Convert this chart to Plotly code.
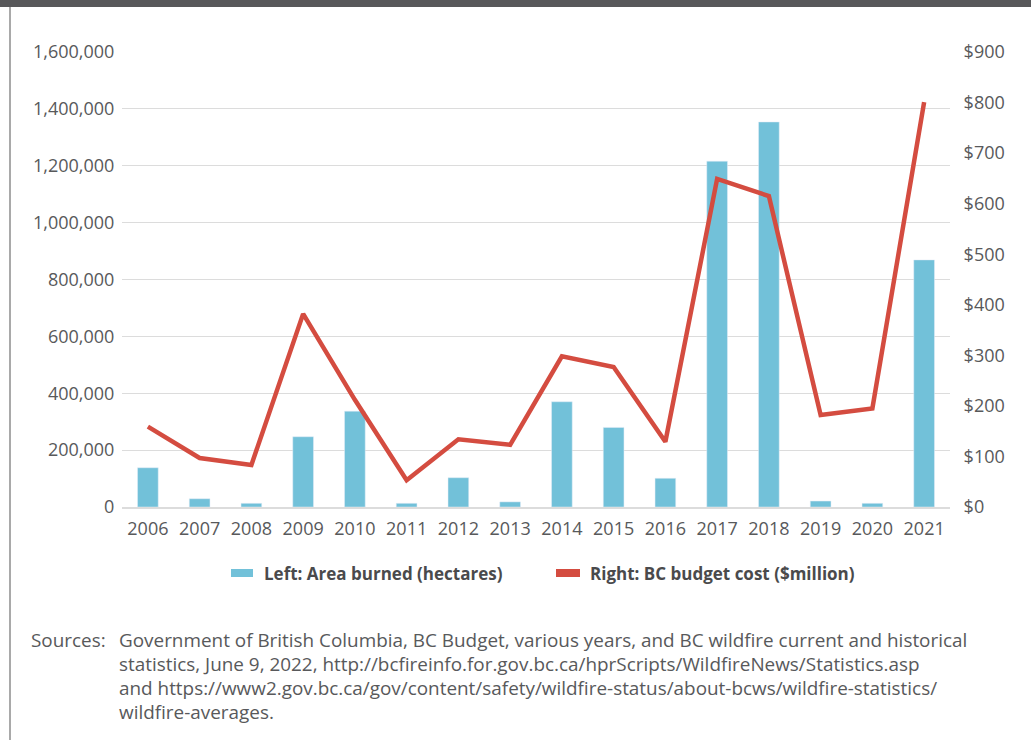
import plotly.graph_objects as go

# Wildfire area burned (hectares) and BC budget cost ($ million), 2006-2021
YEARS = [str(y) for y in range(2006, 2022)]
AREA_BURNED = [
    138000, 29000, 13000, 247000, 337000, 13000, 103000, 18000,
    370000, 280000, 101000, 1216000, 1354000, 21000, 13000, 869000,
]
BUDGET_COST = [
    159, 97, 83, 382, 212, 53, 134, 123,
    298, 277, 129, 649, 615, 182, 195, 801,
]
LEFT_TICKS = [0, 200000, 400000, 600000, 800000, 1000000, 1200000, 1400000, 1600000]
RIGHT_TICKS = [0, 100, 200, 300, 400, 500, 600, 700, 800, 900]

SOURCE_LINES = [
    "Government of British Columbia, BC Budget, various years, and BC wildfire current and historical",
    "statistics, June 9, 2022, http://bcfireinfo.for.gov.bc.ca/hprScripts/WildfireNews/Statistics.asp",
    "and https://www2.gov.bc.ca/gov/content/safety/wildfire-status/about-bcws/wildfire-statistics/",
    "wildfire-averages.",
]

COLOR_BAR = "#72c1d9"
COLOR_LINE = "#d44c40"
COLOR_TEXT = "#58595b"
COLOR_GRID = "#dcdcdc"
FONT = "Open Sans"

W, H = 1031, 740
PLOT_L, PLOT_R, PLOT_T, PLOT_B = 122, 950, 52, 507


def px(x):
    return (x - PLOT_L) / (PLOT_R - PLOT_L)


def py(y):
    return (PLOT_B - y) / (PLOT_B - PLOT_T)


fig = go.Figure()
fig.add_trace(
    go.Bar(
        x=YEARS,
        y=AREA_BURNED,
        marker_color=COLOR_BAR,
        name="Left: Area burned (hectares)",
        showlegend=False,
    )
)
fig.add_trace(
    go.Scatter(
        x=YEARS,
        y=BUDGET_COST,
        mode="lines",
        line=dict(color=COLOR_LINE, width=4.5),
        name="Right: BC budget cost ($million)",
        yaxis="y2",
        showlegend=False,
    )
)

shapes = [
    # dark band along the top
    dict(type="rect", xref="paper", yref="paper", x0=px(-2), x1=px(W + 2), y0=py(7), y1=py(-2),
         fillcolor="#58585a", line_width=0, layer="above"),
    # left frame line
    dict(type="line", xref="paper", yref="paper", x0=px(10), x1=px(10), y0=py(7), y1=py(H + 2),
         line=dict(color="#8c8c8c", width=1.5)),
    # legend swatches
    dict(type="rect", xref="paper", yref="paper", x0=px(231), x1=px(253), y0=py(577), y1=py(569),
         fillcolor=COLOR_BAR, line_width=0),
    dict(type="rect", xref="paper", yref="paper", x0=px(556), x1=px(580), y0=py(577), y1=py(569),
         fillcolor=COLOR_LINE, line_width=0),
]

annotations = [
    dict(text="<b>Left: Area burned (hectares)</b>", x=px(262), y=py(573)),
    dict(text="<b>Right: BC budget cost ($million)</b>", x=px(588), y=py(573)),
    dict(text="Sources:", x=px(29), y=py(640)),
]
for i, line in enumerate(SOURCE_LINES):
    annotations.append(dict(text=line, x=px(117), y=py(640 + i * 24)))
for a in annotations:
    bold = a["text"].startswith("<b>")
    a.update(xref="paper", yref="paper", xanchor="left", yanchor="middle", showarrow=False,
             font=dict(family=FONT, size=17 if bold else 18.9,
                       color="#4a4a4c" if bold else COLOR_TEXT))

fig.update_layout(
    width=W,
    height=H,
    margin=dict(l=PLOT_L, r=W - PLOT_R, t=PLOT_T, b=H - PLOT_B, pad=0),
    paper_bgcolor="white",
    plot_bgcolor="white",
    font=dict(family=FONT, size=18, color=COLOR_TEXT),
    bargap=0.6,
    shapes=shapes,
    annotations=annotations,
    xaxis=dict(
        type="category",
        showgrid=False,
        showline=True,
        linecolor=COLOR_GRID,
        linewidth=2,
        ticks="outside",
        ticklen=4,
        tickcolor="rgba(0,0,0,0)",
        tickfont=dict(size=18),
    ),
    yaxis=dict(
        range=[0, 1600000],
        tickvals=LEFT_TICKS,
        ticktext=[f"{v:,}" for v in LEFT_TICKS],
        showgrid=True,
        gridcolor=COLOR_GRID,
        gridwidth=1,
        zeroline=False,
        ticks="outside",
        ticklen=3,
        tickcolor="rgba(0,0,0,0)",
        tickfont=dict(size=18),
    ),
    yaxis2=dict(
        range=[0, 900],
        tickvals=RIGHT_TICKS,
        ticktext=[f"${v}" for v in RIGHT_TICKS],
        overlaying="y",
        side="right",
        showgrid=False,
        zeroline=False,
        ticks="outside",
        ticklen=9,
        tickcolor="rgba(0,0,0,0)",
        tickfont=dict(size=18),
    ),
)

# page default body margin would shift the figure; pin it to the top-left corner
fig.write_html(
    "out.html",
    config={"displayModeBar": False},
    post_script="document.body.style.margin='0px';",
)
